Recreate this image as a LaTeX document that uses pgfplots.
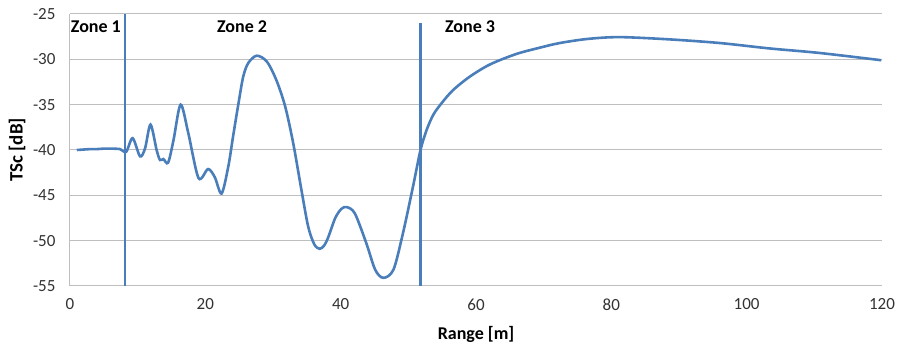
\documentclass[border=0pt]{standalone}
\usepackage{pgfplots}
\pgfplotsset{compat=1.18}
\usepackage{fontspec}
\setmainfont{Carlito}
\definecolor{lineblue}{RGB}{74,126,187}
\definecolor{gridgray}{RGB}{190,190,190}
\definecolor{ticktext}{RGB}{50,50,50}
\begin{document}
\begin{tikzpicture}
\useasboundingbox (-70pt,-59pt) rectangle (828pt,286pt);
\begin{axis}[
  at={(0,0)}, anchor=south west,
  scale only axis,
  width=812pt, height=272pt,
  xmin=0, xmax=120, ymin=-55, ymax=-25,
  xtick={0,20,...,120},
  ytick={-55,-50,...,-25},
  axis x line=bottom, axis y line=left,
  axis line style={gridgray, line width=1pt, -},
  ymajorgrids, grid style={gridgray, line width=1pt},
  major tick length=0pt,
  /pgf/number format/assume math mode=true,
  tick label style={font=\fontsize{17}{20}\selectfont, text=ticktext},
  xticklabel style={yshift=-9pt},
  yticklabel style={xshift=-11pt},
  xlabel={\textbf{Range [m]}},
  ylabel={\textbf{TSc [dB]}},
  xlabel style={font=\fontsize{18}{21}\selectfont, at={(axis description cs:0.5,0)}, anchor=center, yshift=-48pt},
  ylabel style={font=\fontsize{19}{22}\selectfont, at={(axis description cs:0,0.5)}, anchor=center, yshift=53pt},
  clip=false,
]
\addplot[lineblue, line width=2.6pt, smooth, tension=0.5] coordinates {
(1,-40.0) (2,-39.95) (3,-39.9) (4,-39.9) (5,-39.85) (5.9,-39.85) (7.4,-39.9)
(8.3,-40.2) (9.26,-38.7) (10.35,-40.7) (11.1,-39.8) (11.9,-37.2) (12.8,-40.0) (13.3,-41.1) (13.8,-41.0)
(14.5,-41.4) (15.3,-38.9) (16.35,-35.0) (17.5,-38.2) (19.0,-43.1) (20.4,-42.1) (21.4,-43.0) (22.4,-44.8)
(23.4,-41.8) (24.1,-38.5) (24.9,-34.85) (25.6,-31.9) (26.35,-30.4) (27.6,-29.6) (29.1,-30.25)
(30.5,-32.3) (31.8,-35.2) (33.0,-39.3) (34.2,-44.4) (35.2,-48.45) (36.1,-50.4) (36.9,-50.9) (37.6,-50.5)
(38.2,-49.55) (39.2,-47.5) (40.1,-46.5) (40.9,-46.3) (42.1,-47.0)
(43.8,-50.3) (45.1,-53.2) (46.3,-54.1) (47.8,-53.2) (49.2,-49.2) (50.7,-44.0) (51.8,-40.0)
(52.7,-37.8) (53.7,-36.1) (54.9,-34.85) (56.6,-33.4) (59.1,-31.9) (62.1,-30.55) (66.0,-29.4)
(69.5,-28.7) (72.4,-28.2) (76.5,-27.75) (81.2,-27.55) (88.6,-27.8) (96.0,-28.2) (103.4,-28.8) (110.8,-29.3) (119.9,-30.1)
};
\addplot[lineblue, line width=2.2pt] coordinates {(8.1,-55) (8.1,-25)};
\addplot[lineblue, line width=2.2pt] coordinates {(51.8,-55) (51.8,-26)};
\node[anchor=base west, font=\fontsize{18}{21}\selectfont\bfseries, inner sep=0pt] at (axis cs:0.1,-27.0) {Zone 1};
\node[anchor=base west, font=\fontsize{18}{21}\selectfont\bfseries, inner sep=0pt] at (axis cs:21.7,-27.0) {Zone 2};
\node[anchor=base west, font=\fontsize{18}{21}\selectfont\bfseries, inner sep=0pt] at (axis cs:55.4,-27.0) {Zone 3};
\end{axis}
\end{tikzpicture}
\end{document}
